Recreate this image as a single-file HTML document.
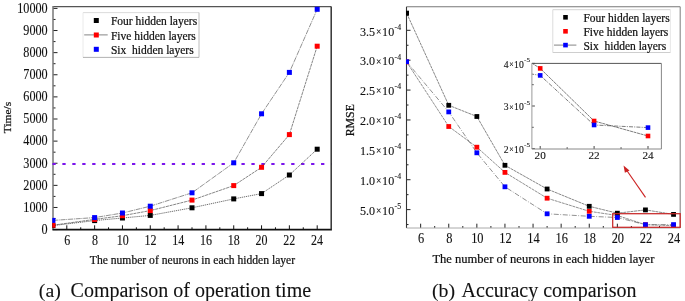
<!DOCTYPE html>
<html><head><meta charset="utf-8"><style>
html,body{margin:0;padding:0;background:#fff;}
svg{display:block;}
text{stroke:#111;stroke-width:0.1px;}
text.b{stroke-width:0.22px;}
</style></head><body>
<svg width="685" height="301" viewBox="0 0 685 301" font-family="'Liberation Serif', 'Times New Roman', serif" fill="#111">
<rect width="685" height="301" fill="#fff"/>
<defs><clipPath id="cl"><rect x="52.3" y="0" width="278.5" height="229"/></clipPath>
<clipPath id="cr"><rect x="405.9" y="0" width="274" height="228"/></clipPath></defs>
<line x1="53" y1="229.6" x2="57.5" y2="229.6" stroke="#222" stroke-width="1"/>
<text transform="translate(47.7 233.95) scale(1 1.13)" font-size="12.2" text-anchor="end">0</text>
<line x1="53" y1="218.54" x2="55.5" y2="218.54" stroke="#222" stroke-width="1"/>
<line x1="53" y1="207.48" x2="57.5" y2="207.48" stroke="#222" stroke-width="1"/>
<text transform="translate(47.7 211.83) scale(1 1.13)" font-size="12.2" text-anchor="end">1000</text>
<line x1="53" y1="196.42" x2="55.5" y2="196.42" stroke="#222" stroke-width="1"/>
<line x1="53" y1="185.36" x2="57.5" y2="185.36" stroke="#222" stroke-width="1"/>
<text transform="translate(47.7 189.71) scale(1 1.13)" font-size="12.2" text-anchor="end">2000</text>
<line x1="53" y1="174.3" x2="55.5" y2="174.3" stroke="#222" stroke-width="1"/>
<line x1="53" y1="163.24" x2="57.5" y2="163.24" stroke="#222" stroke-width="1"/>
<text transform="translate(47.7 167.59) scale(1 1.13)" font-size="12.2" text-anchor="end">3000</text>
<line x1="53" y1="152.18" x2="55.5" y2="152.18" stroke="#222" stroke-width="1"/>
<line x1="53" y1="141.12" x2="57.5" y2="141.12" stroke="#222" stroke-width="1"/>
<text transform="translate(47.7 145.47) scale(1 1.13)" font-size="12.2" text-anchor="end">4000</text>
<line x1="53" y1="130.06" x2="55.5" y2="130.06" stroke="#222" stroke-width="1"/>
<line x1="53" y1="119" x2="57.5" y2="119" stroke="#222" stroke-width="1"/>
<text transform="translate(47.7 123.35) scale(1 1.13)" font-size="12.2" text-anchor="end">5000</text>
<line x1="53" y1="107.94" x2="55.5" y2="107.94" stroke="#222" stroke-width="1"/>
<line x1="53" y1="96.88" x2="57.5" y2="96.88" stroke="#222" stroke-width="1"/>
<text transform="translate(47.7 101.23) scale(1 1.13)" font-size="12.2" text-anchor="end">6000</text>
<line x1="53" y1="85.82" x2="55.5" y2="85.82" stroke="#222" stroke-width="1"/>
<line x1="53" y1="74.76" x2="57.5" y2="74.76" stroke="#222" stroke-width="1"/>
<text transform="translate(47.7 79.11) scale(1 1.13)" font-size="12.2" text-anchor="end">7000</text>
<line x1="53" y1="63.7" x2="55.5" y2="63.7" stroke="#222" stroke-width="1"/>
<line x1="53" y1="52.64" x2="57.5" y2="52.64" stroke="#222" stroke-width="1"/>
<text transform="translate(47.7 56.99) scale(1 1.13)" font-size="12.2" text-anchor="end">8000</text>
<line x1="53" y1="41.58" x2="55.5" y2="41.58" stroke="#222" stroke-width="1"/>
<line x1="53" y1="30.52" x2="57.5" y2="30.52" stroke="#222" stroke-width="1"/>
<text transform="translate(47.7 34.87) scale(1 1.13)" font-size="12.2" text-anchor="end">9000</text>
<line x1="53" y1="19.46" x2="55.5" y2="19.46" stroke="#222" stroke-width="1"/>
<line x1="53" y1="8.4" x2="57.5" y2="8.4" stroke="#222" stroke-width="1"/>
<text transform="translate(47.7 12.75) scale(1 1.13)" font-size="12.2" text-anchor="end">10000</text>
<line x1="66.81" y1="229.6" x2="66.81" y2="225.3" stroke="#111" stroke-width="1"/>
<text transform="translate(67.2 244.9) scale(1 1.14)" font-size="12" text-anchor="middle">6</text>
<line x1="80.72" y1="229.6" x2="80.72" y2="227.3" stroke="#111" stroke-width="1"/>
<line x1="94.63" y1="229.6" x2="94.63" y2="225.3" stroke="#111" stroke-width="1"/>
<text transform="translate(94.95 244.9) scale(1 1.14)" font-size="12" text-anchor="middle">8</text>
<line x1="108.54" y1="229.6" x2="108.54" y2="227.3" stroke="#111" stroke-width="1"/>
<line x1="122.45" y1="229.6" x2="122.45" y2="225.3" stroke="#111" stroke-width="1"/>
<text transform="translate(122.71 244.9) scale(1 1.14)" font-size="12" text-anchor="middle">10</text>
<line x1="136.36" y1="229.6" x2="136.36" y2="227.3" stroke="#111" stroke-width="1"/>
<line x1="150.27" y1="229.6" x2="150.27" y2="225.3" stroke="#111" stroke-width="1"/>
<text transform="translate(150.46 244.9) scale(1 1.14)" font-size="12" text-anchor="middle">12</text>
<line x1="164.18" y1="229.6" x2="164.18" y2="227.3" stroke="#111" stroke-width="1"/>
<line x1="178.09" y1="229.6" x2="178.09" y2="225.3" stroke="#111" stroke-width="1"/>
<text transform="translate(178.22 244.9) scale(1 1.14)" font-size="12" text-anchor="middle">14</text>
<line x1="192" y1="229.6" x2="192" y2="227.3" stroke="#111" stroke-width="1"/>
<line x1="205.91" y1="229.6" x2="205.91" y2="225.3" stroke="#111" stroke-width="1"/>
<text transform="translate(205.97 244.9) scale(1 1.14)" font-size="12" text-anchor="middle">16</text>
<line x1="219.82" y1="229.6" x2="219.82" y2="227.3" stroke="#111" stroke-width="1"/>
<line x1="233.73" y1="229.6" x2="233.73" y2="225.3" stroke="#111" stroke-width="1"/>
<text transform="translate(233.72 244.9) scale(1 1.14)" font-size="12" text-anchor="middle">18</text>
<line x1="247.64" y1="229.6" x2="247.64" y2="227.3" stroke="#111" stroke-width="1"/>
<line x1="261.55" y1="229.6" x2="261.55" y2="225.3" stroke="#111" stroke-width="1"/>
<text transform="translate(261.48 244.9) scale(1 1.14)" font-size="12" text-anchor="middle">20</text>
<line x1="275.46" y1="229.6" x2="275.46" y2="227.3" stroke="#111" stroke-width="1"/>
<line x1="289.37" y1="229.6" x2="289.37" y2="225.3" stroke="#111" stroke-width="1"/>
<text transform="translate(289.23 244.9) scale(1 1.14)" font-size="12" text-anchor="middle">22</text>
<line x1="303.28" y1="229.6" x2="303.28" y2="227.3" stroke="#111" stroke-width="1"/>
<line x1="317.19" y1="229.6" x2="317.19" y2="225.3" stroke="#111" stroke-width="1"/>
<text transform="translate(316.99 244.9) scale(1 1.14)" font-size="12" text-anchor="middle">24</text>
<line x1="53" y1="6.6" x2="331.2" y2="6.6" stroke="#555" stroke-width="1.1"/>
<line x1="53" y1="6.1" x2="53" y2="229.6" stroke="#777" stroke-width="1.5"/>
<line x1="52.4" y1="229.6" x2="331.9" y2="229.6" stroke="#111" stroke-width="1.7"/>
<line x1="52.4" y1="163.9" x2="331.8" y2="163.9" stroke="#7a14ec" stroke-width="2" stroke-dasharray="3.3 6.65"/>
<polyline points="52.9,225.6 94.63,220.6 122.45,218 150.27,215.4 192,207.8 233.73,198.9 261.55,193.6 289.37,175 317.19,149.2" fill="none" stroke="#333" stroke-width="0.7" stroke-dasharray="1.3 0.8" clip-path="url(#cl)"/>
<polyline points="52.9,225.2 94.63,219.4 122.45,215.7 150.27,210.6 192,200.1 233.73,185.6 261.55,167.3 289.37,134.6 317.19,46.2" fill="none" stroke="#444" stroke-width="0.65" stroke-dasharray="3 0.7" clip-path="url(#cl)"/>
<polyline points="52.9,220.4 94.63,217.6 122.45,213 150.27,206.2 192,192.8 233.73,162.8 261.55,113.8 289.37,72.4 317.19,9.3" fill="none" stroke="#555" stroke-width="0.65" stroke-dasharray="5 0.8 1 0.8" clip-path="url(#cl)"/>
<rect x="50.4" y="223.1" width="5" height="5" fill="#000" clip-path="url(#cl)"/>
<rect x="92.13" y="218.1" width="5" height="5" fill="#000" clip-path="url(#cl)"/>
<rect x="119.95" y="215.5" width="5" height="5" fill="#000" clip-path="url(#cl)"/>
<rect x="147.77" y="212.9" width="5" height="5" fill="#000" clip-path="url(#cl)"/>
<rect x="189.5" y="205.3" width="5" height="5" fill="#000" clip-path="url(#cl)"/>
<rect x="231.23" y="196.4" width="5" height="5" fill="#000" clip-path="url(#cl)"/>
<rect x="259.05" y="191.1" width="5" height="5" fill="#000" clip-path="url(#cl)"/>
<rect x="286.87" y="172.5" width="5" height="5" fill="#000" clip-path="url(#cl)"/>
<rect x="314.69" y="146.7" width="5" height="5" fill="#000" clip-path="url(#cl)"/>
<rect x="50.4" y="222.7" width="5" height="5" fill="#f00" clip-path="url(#cl)"/>
<rect x="92.13" y="216.9" width="5" height="5" fill="#f00" clip-path="url(#cl)"/>
<rect x="119.95" y="213.2" width="5" height="5" fill="#f00" clip-path="url(#cl)"/>
<rect x="147.77" y="208.1" width="5" height="5" fill="#f00" clip-path="url(#cl)"/>
<rect x="189.5" y="197.6" width="5" height="5" fill="#f00" clip-path="url(#cl)"/>
<rect x="231.23" y="183.1" width="5" height="5" fill="#f00" clip-path="url(#cl)"/>
<rect x="259.05" y="164.8" width="5" height="5" fill="#f00" clip-path="url(#cl)"/>
<rect x="286.87" y="132.1" width="5" height="5" fill="#f00" clip-path="url(#cl)"/>
<rect x="314.69" y="43.7" width="5" height="5" fill="#f00" clip-path="url(#cl)"/>
<rect x="50.4" y="217.9" width="5" height="5" fill="#00f" clip-path="url(#cl)"/>
<rect x="92.13" y="215.1" width="5" height="5" fill="#00f" clip-path="url(#cl)"/>
<rect x="119.95" y="210.5" width="5" height="5" fill="#00f" clip-path="url(#cl)"/>
<rect x="147.77" y="203.7" width="5" height="5" fill="#00f" clip-path="url(#cl)"/>
<rect x="189.5" y="190.3" width="5" height="5" fill="#00f" clip-path="url(#cl)"/>
<rect x="231.23" y="160.3" width="5" height="5" fill="#00f" clip-path="url(#cl)"/>
<rect x="259.05" y="111.3" width="5" height="5" fill="#00f" clip-path="url(#cl)"/>
<rect x="286.87" y="69.9" width="5" height="5" fill="#00f" clip-path="url(#cl)"/>
<rect x="314.69" y="6.8" width="5" height="5" fill="#00f" clip-path="url(#cl)"/>
<line x1="331.2" y1="6.6" x2="331.2" y2="229.6" stroke="#333" stroke-width="1.5"/>
<rect x="83" y="12.6" width="116" height="44.8" fill="#fff"/>
<line x1="83" y1="12.6" x2="199" y2="12.6" stroke="#d8d8d8" stroke-width="0.9"/>
<line x1="83" y1="12.6" x2="83" y2="57.4" stroke="#e8e8e8" stroke-width="0.9"/>
<line x1="199" y1="12.6" x2="199" y2="57.4" stroke="#b4b4b4" stroke-width="0.9"/>
<line x1="83" y1="57.4" x2="199" y2="57.4" stroke="#a8a8a8" stroke-width="0.9"/>
<rect x="93.8" y="18" width="5" height="5" fill="#000"/>
<line x1="84.2" y1="34.9" x2="107.7" y2="34.9" stroke="#707070" stroke-width="0.85"/>
<rect x="93.8" y="32.5" width="5" height="5" fill="#f00"/>
<rect x="93.8" y="46.8" width="5" height="5" fill="#00f"/>
<text x="110.9" y="25.2" font-size="11.5" class="b">Four hidden layers</text>
<text x="110.9" y="39.6" font-size="11.5" class="b">Five hidden layers</text>
<text x="110.9" y="53.5" font-size="11.5" class="b" xml:space="preserve">Six  hidden layers</text>
<text x="89.8" y="264.3" font-size="11.62" class="b">The number of neurons in each hidden layer</text>
<text transform="translate(10.6,117.5) rotate(-90)" text-anchor="middle" font-size="11.4" class="b">Time/s</text>
<text x="38.8" y="296.8" font-size="19.8">(a)</text>
<text x="70.6" y="296.8" font-size="20">Comparison of operation time</text>
<line x1="406.5" y1="224.56" x2="408.5" y2="224.56" stroke="#222" stroke-width="1"/>
<line x1="406.5" y1="209.62" x2="410.5" y2="209.62" stroke="#222" stroke-width="1"/>
<text transform="translate(394.2 214.92) scale(1 1.1)" font-size="12.1" text-anchor="end">5.0<tspan font-size="9.6" dy="-0.9" dx="0.9">×</tspan><tspan dy="0.9" dx="0.8">10</tspan></text>
<text transform="translate(394.6 209.02) scale(1 1.1)" font-size="7.8">-5</text>
<line x1="406.5" y1="194.67" x2="408.5" y2="194.67" stroke="#222" stroke-width="1"/>
<line x1="406.5" y1="179.73" x2="410.5" y2="179.73" stroke="#222" stroke-width="1"/>
<text transform="translate(394.2 185.03) scale(1 1.1)" font-size="12.1" text-anchor="end">1.0<tspan font-size="9.6" dy="-0.9" dx="0.9">×</tspan><tspan dy="0.9" dx="0.8">10</tspan></text>
<text transform="translate(394.6 179.13) scale(1 1.1)" font-size="7.8">-4</text>
<line x1="406.5" y1="164.79" x2="408.5" y2="164.79" stroke="#222" stroke-width="1"/>
<line x1="406.5" y1="149.84" x2="410.5" y2="149.84" stroke="#222" stroke-width="1"/>
<text transform="translate(394.2 155.15) scale(1 1.1)" font-size="12.1" text-anchor="end">1.5<tspan font-size="9.6" dy="-0.9" dx="0.9">×</tspan><tspan dy="0.9" dx="0.8">10</tspan></text>
<text transform="translate(394.6 149.25) scale(1 1.1)" font-size="7.8">-4</text>
<line x1="406.5" y1="134.9" x2="408.5" y2="134.9" stroke="#222" stroke-width="1"/>
<line x1="406.5" y1="119.96" x2="410.5" y2="119.96" stroke="#222" stroke-width="1"/>
<text transform="translate(394.2 125.26) scale(1 1.1)" font-size="12.1" text-anchor="end">2.0<tspan font-size="9.6" dy="-0.9" dx="0.9">×</tspan><tspan dy="0.9" dx="0.8">10</tspan></text>
<text transform="translate(394.6 119.36) scale(1 1.1)" font-size="7.8">-4</text>
<line x1="406.5" y1="105.02" x2="408.5" y2="105.02" stroke="#222" stroke-width="1"/>
<line x1="406.5" y1="90.07" x2="410.5" y2="90.07" stroke="#222" stroke-width="1"/>
<text transform="translate(394.2 95.37) scale(1 1.1)" font-size="12.1" text-anchor="end">2.5<tspan font-size="9.6" dy="-0.9" dx="0.9">×</tspan><tspan dy="0.9" dx="0.8">10</tspan></text>
<text transform="translate(394.6 89.47) scale(1 1.1)" font-size="7.8">-4</text>
<line x1="406.5" y1="75.13" x2="408.5" y2="75.13" stroke="#222" stroke-width="1"/>
<line x1="406.5" y1="60.19" x2="410.5" y2="60.19" stroke="#222" stroke-width="1"/>
<text transform="translate(394.2 65.49) scale(1 1.1)" font-size="12.1" text-anchor="end">3.0<tspan font-size="9.6" dy="-0.9" dx="0.9">×</tspan><tspan dy="0.9" dx="0.8">10</tspan></text>
<text transform="translate(394.6 59.59) scale(1 1.1)" font-size="7.8">-4</text>
<line x1="406.5" y1="45.25" x2="408.5" y2="45.25" stroke="#222" stroke-width="1"/>
<line x1="406.5" y1="30.3" x2="410.5" y2="30.3" stroke="#222" stroke-width="1"/>
<text transform="translate(394.2 35.6) scale(1 1.1)" font-size="12.1" text-anchor="end">3.5<tspan font-size="9.6" dy="-0.9" dx="0.9">×</tspan><tspan dy="0.9" dx="0.8">10</tspan></text>
<text transform="translate(394.6 29.7) scale(1 1.1)" font-size="7.8">-4</text>
<line x1="406.5" y1="15.36" x2="408.5" y2="15.36" stroke="#222" stroke-width="1"/>
<line x1="420.65" y1="228" x2="420.65" y2="223.7" stroke="#222" stroke-width="1"/>
<text transform="translate(421.15 243.2) scale(1 1.14)" font-size="12.4" text-anchor="middle">6</text>
<line x1="434.7" y1="228" x2="434.7" y2="226" stroke="#222" stroke-width="1"/>
<line x1="448.75" y1="228" x2="448.75" y2="223.7" stroke="#222" stroke-width="1"/>
<text transform="translate(449.25 243.2) scale(1 1.14)" font-size="12.4" text-anchor="middle">8</text>
<line x1="462.8" y1="228" x2="462.8" y2="226" stroke="#222" stroke-width="1"/>
<line x1="476.85" y1="228" x2="476.85" y2="223.7" stroke="#222" stroke-width="1"/>
<text transform="translate(477.35 243.2) scale(1 1.14)" font-size="12.4" text-anchor="middle">10</text>
<line x1="490.9" y1="228" x2="490.9" y2="226" stroke="#222" stroke-width="1"/>
<line x1="504.95" y1="228" x2="504.95" y2="223.7" stroke="#222" stroke-width="1"/>
<text transform="translate(505.45 243.2) scale(1 1.14)" font-size="12.4" text-anchor="middle">12</text>
<line x1="519" y1="228" x2="519" y2="226" stroke="#222" stroke-width="1"/>
<line x1="533.05" y1="228" x2="533.05" y2="223.7" stroke="#222" stroke-width="1"/>
<text transform="translate(533.55 243.2) scale(1 1.14)" font-size="12.4" text-anchor="middle">14</text>
<line x1="547.1" y1="228" x2="547.1" y2="226" stroke="#222" stroke-width="1"/>
<line x1="561.15" y1="228" x2="561.15" y2="223.7" stroke="#222" stroke-width="1"/>
<text transform="translate(561.65 243.2) scale(1 1.14)" font-size="12.4" text-anchor="middle">16</text>
<line x1="575.2" y1="228" x2="575.2" y2="226" stroke="#222" stroke-width="1"/>
<line x1="589.25" y1="228" x2="589.25" y2="223.7" stroke="#222" stroke-width="1"/>
<text transform="translate(589.75 243.2) scale(1 1.14)" font-size="12.4" text-anchor="middle">18</text>
<line x1="603.3" y1="228" x2="603.3" y2="226" stroke="#222" stroke-width="1"/>
<line x1="617.35" y1="228" x2="617.35" y2="223.7" stroke="#222" stroke-width="1"/>
<text transform="translate(617.85 243.2) scale(1 1.14)" font-size="12.4" text-anchor="middle">20</text>
<line x1="631.4" y1="228" x2="631.4" y2="226" stroke="#222" stroke-width="1"/>
<line x1="645.45" y1="228" x2="645.45" y2="223.7" stroke="#222" stroke-width="1"/>
<text transform="translate(645.95 243.2) scale(1 1.14)" font-size="12.4" text-anchor="middle">22</text>
<line x1="659.5" y1="228" x2="659.5" y2="226" stroke="#222" stroke-width="1"/>
<line x1="673.55" y1="228" x2="673.55" y2="223.7" stroke="#222" stroke-width="1"/>
<text transform="translate(674.05 243.2) scale(1 1.14)" font-size="12.4" text-anchor="middle">24</text>
<line x1="406.5" y1="6.8" x2="680.2" y2="6.8" stroke="#777" stroke-width="1.1"/>
<line x1="680.2" y1="6.8" x2="680.2" y2="228" stroke="#888" stroke-width="1.1"/>
<line x1="406.5" y1="6.8" x2="406.5" y2="228" stroke="#333" stroke-width="1.1"/>
<line x1="406.5" y1="228" x2="680.2" y2="228" stroke="#aaa" stroke-width="1"/>
<polyline points="406.6,13.1 448.75,105.3 476.85,116.5 504.95,165.3 547.1,189 589.25,206.3 617.35,213.2 645.45,209.9 673.55,214.4" fill="none" stroke="#555" stroke-width="0.7" stroke-dasharray="3 0.6" clip-path="url(#cr)"/>
<polyline points="406.6,61.9 448.75,126.5 476.85,147.2 504.95,172.4 547.1,198.2 589.25,211.3 617.35,215.5 645.45,224.7 673.55,225.6" fill="none" stroke="#555" stroke-width="0.65" stroke-dasharray="3 0.7" clip-path="url(#cr)"/>
<polyline points="406.6,61.7 448.75,111.9 476.85,152.8 504.95,186.8 547.1,213.8 589.25,216.3 617.35,217.5 645.45,224.7 673.55,224.6" fill="none" stroke="#555" stroke-width="0.65" stroke-dasharray="5 1.6 0.8 1.6" clip-path="url(#cr)"/>
<rect x="404.2" y="59.5" width="4.8" height="4.8" fill="#f00" clip-path="url(#cr)"/>
<rect x="446.35" y="124.1" width="4.8" height="4.8" fill="#f00" clip-path="url(#cr)"/>
<rect x="474.45" y="144.8" width="4.8" height="4.8" fill="#f00" clip-path="url(#cr)"/>
<rect x="502.55" y="170" width="4.8" height="4.8" fill="#f00" clip-path="url(#cr)"/>
<rect x="544.7" y="195.8" width="4.8" height="4.8" fill="#f00" clip-path="url(#cr)"/>
<rect x="586.85" y="208.9" width="4.8" height="4.8" fill="#f00" clip-path="url(#cr)"/>
<rect x="614.95" y="213.1" width="4.8" height="4.8" fill="#f00" clip-path="url(#cr)"/>
<rect x="643.05" y="222.3" width="4.8" height="4.8" fill="#f00" clip-path="url(#cr)"/>
<rect x="671.15" y="223.2" width="4.8" height="4.8" fill="#f00" clip-path="url(#cr)"/>
<rect x="404.2" y="10.7" width="4.8" height="4.8" fill="#000" clip-path="url(#cr)"/>
<rect x="446.35" y="102.9" width="4.8" height="4.8" fill="#000" clip-path="url(#cr)"/>
<rect x="474.45" y="114.1" width="4.8" height="4.8" fill="#000" clip-path="url(#cr)"/>
<rect x="502.55" y="162.9" width="4.8" height="4.8" fill="#000" clip-path="url(#cr)"/>
<rect x="544.7" y="186.6" width="4.8" height="4.8" fill="#000" clip-path="url(#cr)"/>
<rect x="586.85" y="203.9" width="4.8" height="4.8" fill="#000" clip-path="url(#cr)"/>
<rect x="614.95" y="210.8" width="4.8" height="4.8" fill="#000" clip-path="url(#cr)"/>
<rect x="643.05" y="207.5" width="4.8" height="4.8" fill="#000" clip-path="url(#cr)"/>
<rect x="671.15" y="212" width="4.8" height="4.8" fill="#000" clip-path="url(#cr)"/>
<rect x="404.2" y="59.3" width="4.8" height="4.8" fill="#00f" clip-path="url(#cr)"/>
<rect x="446.35" y="109.5" width="4.8" height="4.8" fill="#00f" clip-path="url(#cr)"/>
<rect x="474.45" y="150.4" width="4.8" height="4.8" fill="#00f" clip-path="url(#cr)"/>
<rect x="502.55" y="184.4" width="4.8" height="4.8" fill="#00f" clip-path="url(#cr)"/>
<rect x="544.7" y="211.4" width="4.8" height="4.8" fill="#00f" clip-path="url(#cr)"/>
<rect x="586.85" y="213.9" width="4.8" height="4.8" fill="#00f" clip-path="url(#cr)"/>
<rect x="614.95" y="215.1" width="4.8" height="4.8" fill="#00f" clip-path="url(#cr)"/>
<rect x="643.05" y="222.3" width="4.8" height="4.8" fill="#00f" clip-path="url(#cr)"/>
<rect x="671.15" y="222.2" width="4.8" height="4.8" fill="#00f" clip-path="url(#cr)"/>
<rect x="552.8" y="9.7" width="117.6" height="42.8" fill="#fff"/>
<line x1="552.8" y1="9.7" x2="670.4" y2="9.7" stroke="#d0d0d0" stroke-width="0.9"/>
<line x1="552.8" y1="9.7" x2="552.8" y2="52.5" stroke="#d8d8d8" stroke-width="0.9"/>
<line x1="670.4" y1="9.7" x2="670.4" y2="52.5" stroke="#e4e4e4" stroke-width="0.9"/>
<line x1="552.8" y1="52.5" x2="670.4" y2="52.5" stroke="#c8c8c8" stroke-width="0.9"/>
<rect x="563.2" y="15" width="4.6" height="4.6" fill="#000"/>
<rect x="563.2" y="29" width="4.6" height="4.6" fill="#f00"/>
<line x1="554" y1="45.1" x2="576.4" y2="45.1" stroke="#777" stroke-width="0.9"/>
<rect x="563.2" y="42.8" width="4.6" height="4.6" fill="#00f"/>
<text x="583.4" y="22" font-size="11.5" class="b">Four hidden layers</text>
<text x="583.4" y="35.8" font-size="11.5" class="b">Five hidden layers</text>
<text x="583.4" y="49.6" font-size="11.5" class="b" xml:space="preserve">Six  hidden layers</text>
<rect x="531.9" y="63.4" width="129.5" height="85.6" fill="#fff"/>
<clipPath id="ci"><rect x="531.9" y="63.4" width="129.5" height="85.6"/></clipPath>
<line x1="531.9" y1="148.6" x2="534.9" y2="148.6" stroke="#333" stroke-width="0.9"/>
<text transform="translate(523.8 152.8) scale(1 1.05)" font-size="9.7" text-anchor="end">2<tspan font-size="7.8" dy="-0.6" dx="0.6">×</tspan><tspan dy="0.6" dx="0.5">10</tspan></text>
<text x="524.1" y="147.1" font-size="7.0">-5</text>
<line x1="531.9" y1="127.3" x2="533.7" y2="127.3" stroke="#333" stroke-width="0.9"/>
<line x1="531.9" y1="106" x2="534.9" y2="106" stroke="#333" stroke-width="0.9"/>
<text transform="translate(523.8 110.2) scale(1 1.05)" font-size="9.7" text-anchor="end">3<tspan font-size="7.8" dy="-0.6" dx="0.6">×</tspan><tspan dy="0.6" dx="0.5">10</tspan></text>
<text x="524.1" y="104.5" font-size="7.0">-5</text>
<line x1="531.9" y1="84.7" x2="533.7" y2="84.7" stroke="#333" stroke-width="0.9"/>
<line x1="531.9" y1="63.4" x2="534.9" y2="63.4" stroke="#333" stroke-width="0.9"/>
<text transform="translate(523.8 67.6) scale(1 1.05)" font-size="9.7" text-anchor="end">4<tspan font-size="7.8" dy="-0.6" dx="0.6">×</tspan><tspan dy="0.6" dx="0.5">10</tspan></text>
<text x="524.1" y="61.9" font-size="7.0">-5</text>
<line x1="540.2" y1="149" x2="540.2" y2="146" stroke="#333" stroke-width="0.9"/>
<text x="540.2" y="159.4" font-size="11.2" text-anchor="middle">20</text>
<line x1="567.15" y1="149" x2="567.15" y2="147.2" stroke="#333" stroke-width="0.9"/>
<line x1="594.1" y1="149" x2="594.1" y2="146" stroke="#333" stroke-width="0.9"/>
<text x="594.1" y="159.4" font-size="11.2" text-anchor="middle">22</text>
<line x1="621.05" y1="149" x2="621.05" y2="147.2" stroke="#333" stroke-width="0.9"/>
<line x1="648" y1="149" x2="648" y2="146" stroke="#333" stroke-width="0.9"/>
<text x="648" y="159.4" font-size="11.2" text-anchor="middle">24</text>
<polyline points="486.3,34.4 540.2,68.4 594.1,121 648,136" fill="none" stroke="#444" stroke-width="0.7" stroke-dasharray="3 0.6" clip-path="url(#ci)"/>
<polyline points="486.3,66.8 540.2,75.4 594.1,125 648,127.6" fill="none" stroke="#444" stroke-width="0.7" stroke-dasharray="4 1.2 1 1.2" clip-path="url(#ci)"/>
<rect x="484" y="32.1" width="4.6" height="4.6" fill="#f00" clip-path="url(#ci)"/>
<rect x="537.9" y="66.1" width="4.6" height="4.6" fill="#f00" clip-path="url(#ci)"/>
<rect x="591.8" y="118.7" width="4.6" height="4.6" fill="#f00" clip-path="url(#ci)"/>
<rect x="645.7" y="133.7" width="4.6" height="4.6" fill="#f00" clip-path="url(#ci)"/>
<rect x="484" y="64.5" width="4.6" height="4.6" fill="#00f" clip-path="url(#ci)"/>
<rect x="537.9" y="73.1" width="4.6" height="4.6" fill="#00f" clip-path="url(#ci)"/>
<rect x="591.8" y="122.7" width="4.6" height="4.6" fill="#00f" clip-path="url(#ci)"/>
<rect x="645.7" y="125.3" width="4.6" height="4.6" fill="#00f" clip-path="url(#ci)"/>
<line x1="531.9" y1="63.4" x2="661.4" y2="63.4" stroke="#555" stroke-width="1"/>
<line x1="661.4" y1="63.4" x2="661.4" y2="149.0" stroke="#888" stroke-width="1"/>
<line x1="531.9" y1="63.4" x2="531.9" y2="149.0" stroke="#999" stroke-width="1"/>
<line x1="531.9" y1="149.0" x2="661.4" y2="149.0" stroke="#888" stroke-width="1"/>
<rect x="612.7" y="213.7" width="67.5" height="13.6" fill="none" stroke="#c82828" stroke-width="1.25"/>
<line x1="645.5" y1="197.4" x2="626.5" y2="170" stroke="#cc2222" stroke-width="1.1"/>
<polygon points="623.5,165.4 629.5,170.5 624.9,172.8" fill="#cc2222"/>
<text x="432.4" y="262.5" font-size="12.56" class="b">The number of neurons in each hidden layer</text>
<text transform="translate(353.6,120.2) rotate(-90)" text-anchor="middle" font-size="11.8" class="b">RMSE</text>
<text x="432" y="296.8" font-size="19.8">(b)</text>
<text x="461.6" y="296.8" font-size="20">Accuracy comparison</text>
</svg>
</body></html>
